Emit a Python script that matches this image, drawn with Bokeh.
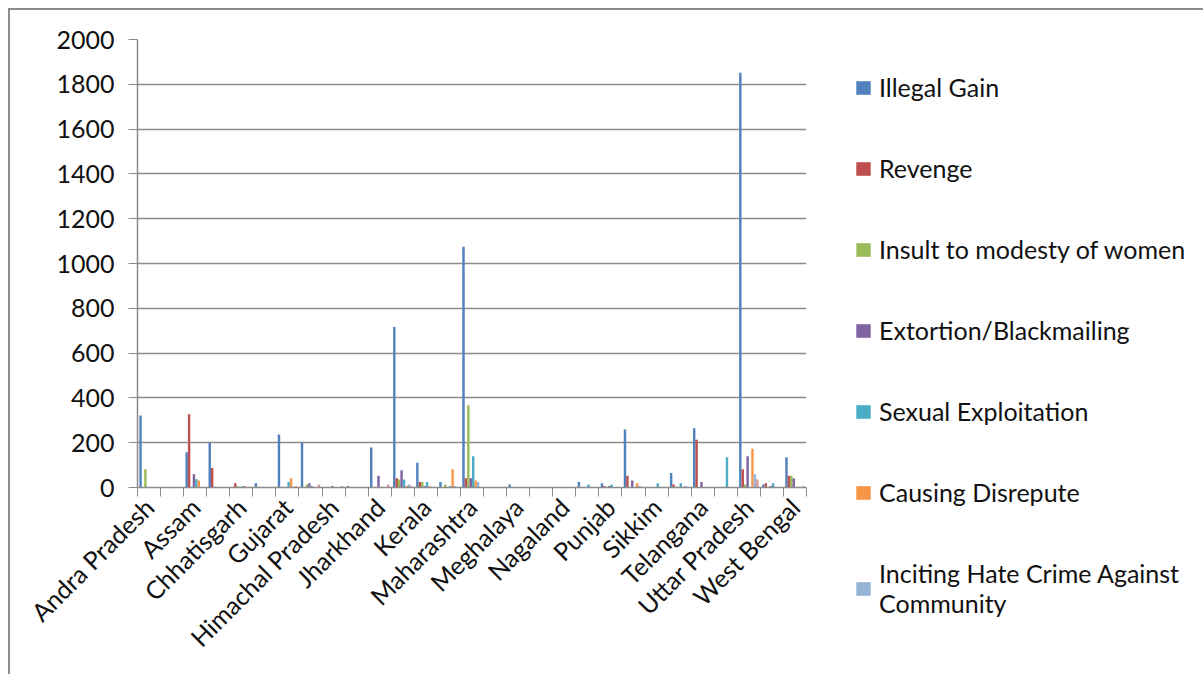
import math
from bokeh.plotting import figure
from bokeh.models import ColumnDataSource, FixedTicker, Range1d, Legend, LegendItem
from bokeh.embed import file_html
from bokeh.resources import INLINE

states = ["Andra Pradesh", "Arunachal Pradesh", "Assam", "Bihar", "Chhatisgarh", "Goa",
          "Gujarat", "Haryana", "Himachal Pradesh", "Jammu & Kashmir", "Jharkhand",
          "Karnataka", "Kerala", "Madhya Pradesh", "Maharashtra", "Manipur", "Meghalaya",
          "Mizoram", "Nagaland", "Odisha", "Punjab", "Rajasthan", "Sikkim", "Tamil Nadu",
          "Telangana", "Tripura", "Uttar Pradesh", "Uttarakhand", "West Bengal"]

series_names = ["Illegal Gain", "Revenge", "Insult to modesty of women",
                "Extortion/Blackmailing", "Sexual Exploitation", "Causing Disrepute",
                "Inciting Hate Crime Against\nCommunity", "Others"]

illegal_gain = [321, 0, 157, 200, 0, 19, 237, 200, 0, 7, 179, 716, 111, 25, 1075, 0, 13, 0, 0,
                25, 19, 259, 0, 65, 265, 0, 1852, 13, 135]
revenge = [0, 0, 327, 87, 19, 0, 0, 0, 0, 0, 0, 41, 25, 0, 41, 0, 0, 0, 0,
           0, 7, 53, 0, 13, 213, 0, 81, 19, 53]
insult_women = [81, 0, 0, 0, 7, 0, 0, 13, 0, 0, 0, 36, 25, 13, 367, 0, 0, 0, 0,
                0, 0, 0, 0, 0, 0, 0, 13, 0, 53]
extortion = [0, 0, 59, 0, 0, 0, 0, 19, 7, 0, 53, 77, 7, 0, 41, 0, 0, 0, 0,
             0, 7, 31, 0, 0, 25, 0, 139, 7, 41]
sexual_exploitation = [0, 0, 37, 0, 7, 0, 25, 7, 0, 0, 0, 36, 25, 7, 139, 0, 0, 0, 0,
                       13, 13, 0, 19, 19, 0, 135, 0, 19, 0]
causing_disrepute = [0, 0, 31, 0, 7, 0, 41, 0, 0, 0, 0, 7, 7, 81, 31, 0, 0, 0, 0,
                     0, 0, 19, 0, 0, 0, 0, 173, 0, 0]
inciting_hate = [0, 0, 0, 0, 0, 0, 0, 0, 0, 0, 0, 13, 0, 7, 25, 0, 0, 0, 0,
                 0, 0, 7, 0, 7, 0, 0, 59, 0, 0]
others = [0, 0, 0, 0, 0, 0, 7, 13, 7, 0, 13, 7, 0, 0, 0, 0, 0, 0, 0,
          0, 0, 0, 0, 0, 0, 0, 36, 0, 7]

y_ticks = list(range(0, 2001, 200))

series_values = [illegal_gain, revenge, insult_women, extortion, sexual_exploitation,
                 causing_disrepute, inciting_hate, others]
colors = ["#4F81BD", "#C0504D", "#9BBB59", "#8064A2", "#4BACC6", "#F79646", "#95B3D7", "#DA9694"]

FONT = "Lato"
GRID = "#8c8c8c"
n_cat = len(states)
n_ser = len(series_values)
slots = n_ser + 1.5
bar_w = 1.0 / slots

p = figure(frame_width=669, frame_height=448,
           x_range=Range1d(0, n_cat), y_range=Range1d(0, 2000),
           output_backend="svg", toolbar_location=None,
           min_border_left=127, min_border_top=29, min_border_right=396, min_border_bottom=189)
p.margin = (10, 0, 0, 10)
p.styles = {"box-shadow": "-2px -2px 0px 0px #8c8c8c"}
p.outline_line_color = None
p.background_fill_color = "white"

items = []
for i, (vals, col) in enumerate(zip(series_values, colors)):
    xs = [k + (0.75 + i + 0.5) * bar_w for k in range(n_cat)]
    src = ColumnDataSource(dict(x=xs, top=vals, state=states))
    r = p.vbar(x="x", top="top", width=bar_w, source=src, fill_color=col, line_color=None)
    if i < 7:
        items.append(LegendItem(label=series_names[i], renderers=[r]))

# axes
p.xaxis.ticker = FixedTicker(ticks=[k + 0.5 for k in range(0, n_cat, 2)],
                             minor_ticks=list(range(n_cat + 1)))
p.xaxis.major_label_overrides = {k + 0.5: states[k] for k in range(0, n_cat, 2)}
p.xaxis.major_label_orientation = math.pi / 4
p.xaxis.major_tick_line_color = None
p.xaxis.minor_tick_line_color = GRID
p.xaxis.minor_tick_out = 9
p.xaxis.minor_tick_in = 0
p.xaxis.axis_line_color = GRID
p.xaxis.axis_line_width = 1.5
p.xaxis.major_label_text_font = FONT
p.xaxis.major_label_text_font_size = "25px"
p.xaxis.major_label_text_color = "#111111"
p.xaxis.major_label_standoff = 6

p.yaxis.ticker = FixedTicker(ticks=y_ticks)
p.yaxis.major_tick_line_color = GRID
p.yaxis.major_tick_out = 9
p.yaxis.major_tick_in = 0
p.yaxis.minor_tick_line_color = None
p.yaxis.axis_line_color = GRID
p.yaxis.axis_line_width = 1.5
p.yaxis.major_label_text_font = FONT
p.yaxis.major_label_text_font_size = "25px"
p.yaxis.major_label_text_color = "#111111"
p.yaxis.major_label_standoff = 14

p.xgrid.visible = False
p.ygrid.grid_line_color = GRID
p.ygrid.grid_line_width = 1.5

legend = Legend(items=items, location=(48, -131), border_line_color=None,
                background_fill_alpha=0, glyph_width=18, glyph_height=17,
                label_standoff=7, spacing=51, padding=0, margin=0,
                label_text_font=FONT, label_text_font_size="25px",
                label_text_color="#111111")
p.add_layout(legend, "right")

open("out.html", "w").write(file_html(p, INLINE))
